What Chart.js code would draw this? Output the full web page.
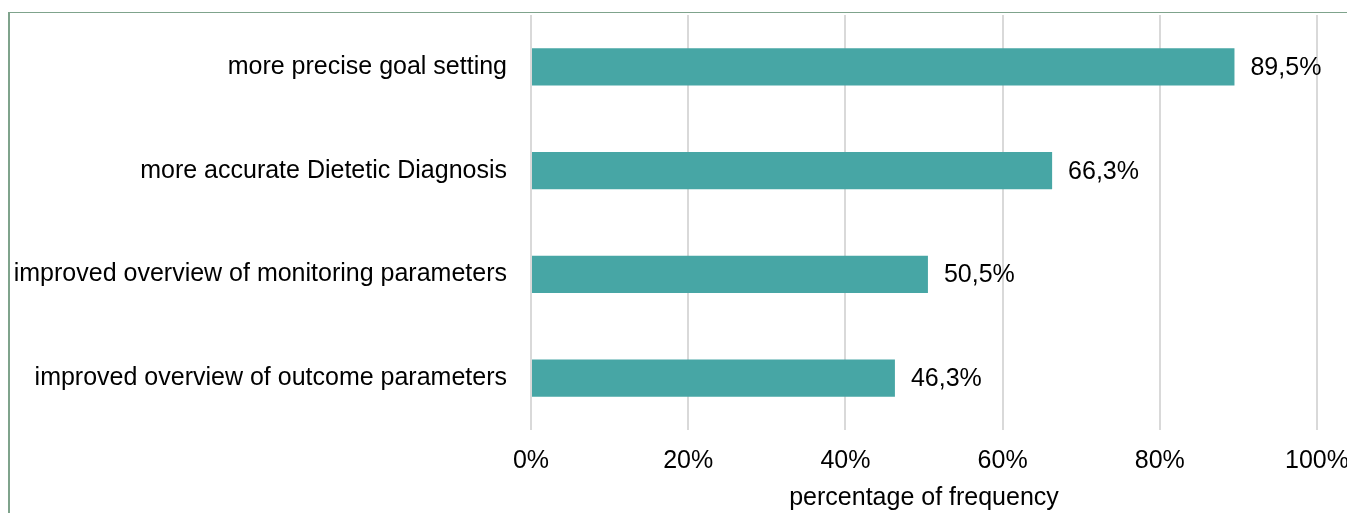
<!DOCTYPE html>
<html>
<head>
<meta charset="utf-8">
<script src="https://cdn.jsdelivr.net/npm/chart.js@4/dist/chart.umd.min.js"></script>
<style>
  html, body { margin: 0; padding: 0; background: #fff; overflow: hidden; }
  #wrap { position: relative; width: 1347px; height: 513px; }
  #frame { position: absolute; left: 8px; top: 12px; width: 1400px; height: 600px;
           border-left: 2px solid #7fa38c; border-top: 1.5px solid #7fa38c; pointer-events: none; }
  canvas { position: absolute; left: 0; top: 0; }
</style>
</head>
<body>
<div id="wrap">
  <canvas id="c" width="1347" height="513"></canvas>
  <div id="frame"></div>
</div>
<script>
const categories = [
  "more precise goal setting",
  "more accurate Dietetic Diagnosis",
  "improved overview of monitoring parameters",
  "improved overview of outcome parameters"
];
const values = [89.5, 66.3, 50.5, 46.3];
const tickValues = [0, 20, 40, 60, 80, 100];
const axisTitle = "percentage of frequency";

const FONT = "'Liberation Sans', Arial, Helvetica, sans-serif";
const FS = 25;
const fmt = v => v.toFixed(1).replace('.', ',') + '%';

const valueLabels = {
  id: 'valueLabels',
  afterDatasetsDraw(chart) {
    const ctx = chart.ctx;
    const meta = chart.getDatasetMeta(0);
    ctx.save();
    ctx.font = FS + 'px ' + FONT;
    ctx.fillStyle = '#000';
    ctx.textAlign = 'left';
    ctx.textBaseline = 'middle';
    meta.data.forEach((bar, i) => {
      ctx.fillText(fmt(values[i]), bar.x + 16, bar.y + 1);
    });
    ctx.restore();
  }
};

new Chart(document.getElementById('c'), {
  type: 'bar',
  data: {
    labels: categories,
    datasets: [{
      data: values,
      backgroundColor: '#47a6a5',
      borderWidth: 0,
      barPercentage: 0.357,
      categoryPercentage: 1.0
    }]
  },
  options: {
    indexAxis: 'y',
    responsive: false,
    animation: false,
    devicePixelRatio: 1,
    layout: { padding: { left: 0, top: 15, right: 30, bottom: 0 } },
    plugins: { legend: { display: false }, tooltip: { enabled: false } },
    scales: {
      x: {
        min: 0, max: 100,
        afterBuildTicks(scale) { scale.ticks = tickValues.map(v => ({ value: v })); },
        afterFit(scale) { scale.height = 83; scale.paddingLeft = 0; scale.paddingRight = 0; },
        grid: { color: '#d9d9d9', lineWidth: 2, drawTicks: false },
        border: { display: false },
        ticks: {
          padding: 16,
          color: '#000',
          font: { family: FONT, size: FS },
          callback: v => v + '%'
        },
        title: {
          display: true,
          text: axisTitle,
          color: '#000',
          font: { family: FONT, size: FS },
          padding: { top: 2, bottom: 0 }
        }
      },
      y: {
        afterFit(scale) { scale.width = 531; scale.paddingTop = 0; scale.paddingBottom = 0; },
        grid: { display: false, drawTicks: false },
        border: { display: false },
        ticks: {
          padding: 24,
          color: '#000',
          font: { family: FONT, size: FS }
        }
      }
    }
  },
  plugins: [valueLabels]
});
</script>
</body>
</html>
